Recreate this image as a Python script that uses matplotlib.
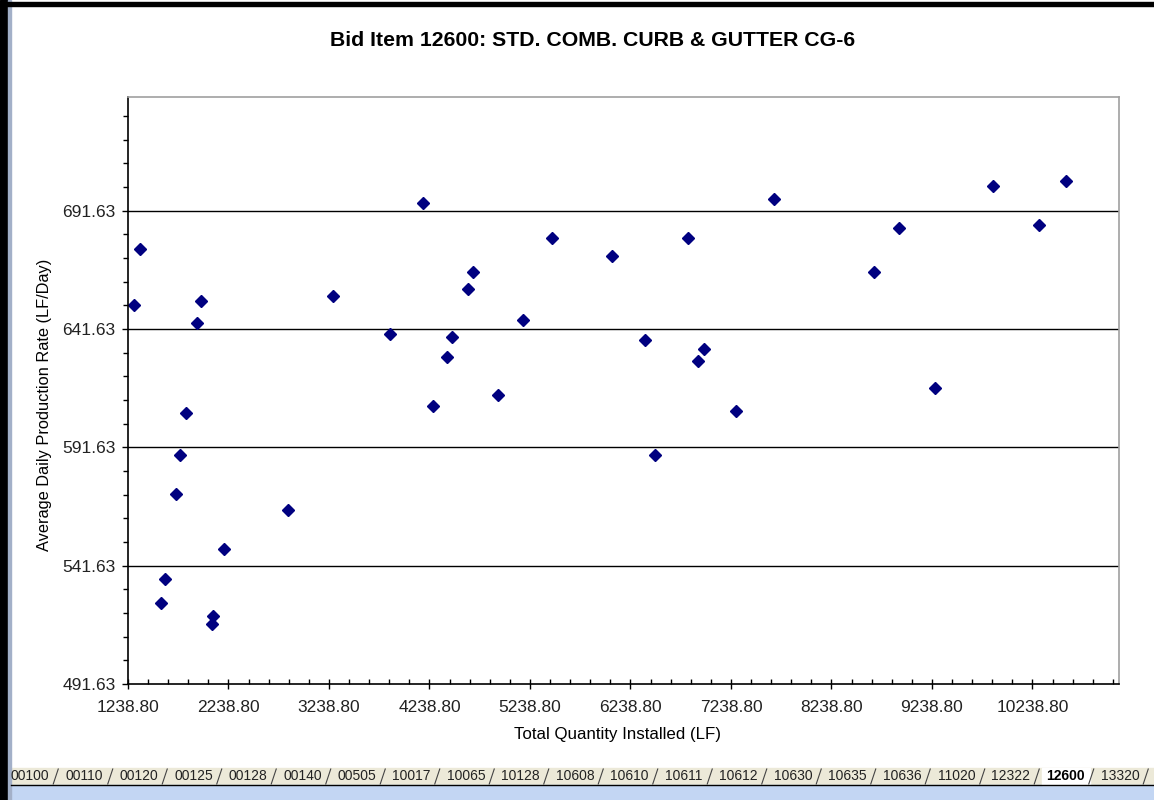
import numpy as np
import matplotlib.pyplot as plt
from matplotlib.patches import Rectangle
from matplotlib.lines import Line2D

plt.rcParams['font.family'] = ['Liberation Sans', 'DejaVu Sans']

# Data
qty_installed = [1298, 1358, 1570, 1610, 1719, 1759, 1816, 1925, 1962, 2078,
                 2088, 2191, 2831, 3279, 3843, 4177, 4271, 4416, 4466, 4619,
                 4669, 4917, 5172, 5455, 6058, 6383, 6486, 6811, 6913, 6973,
                 7291, 7668, 8661, 8913, 9269, 9842, 10299, 10572]
prod_rate = [651.8, 675.5, 525.7, 536.0, 572.1, 588.3, 606.0, 644.1, 653.6, 517.0,
             520.2, 548.6, 565.2, 655.8, 639.4, 694.8, 609.0, 630.0, 638.2, 658.6,
             665.6, 613.7, 645.5, 680.1, 672.5, 636.9, 588.4, 680.1, 628.3, 633.4,
             606.9, 696.5, 665.6, 684.5, 616.7, 702.1, 685.8, 704.2]

x_min, x_max, x_step = 1238.80, 11100, 1000
y_min, y_max, y_step = 491.63, 739.7, 50

sheet_tabs = ['00100', '00110', '00120', '00125', '00128', '00140', '00505',
              '10017', '10065', '10128', '10608', '10610', '10611', '10612',
              '10630', '10635', '10636', '11020', '12322', '12600', '13320']
active_tab = '12600'

W, H = 1154, 800
fig = plt.figure(figsize=(W / 100, H / 100), dpi=100)
fig.patch.set_facecolor('white')


def fx(px):
    return px / W


def fy(py):
    return 1 - py / H


# plot area in pixels: left 128, right 1119, top 97, bottom 684
ax = fig.add_axes([fx(128), fy(684), fx(1119) - fx(128), fy(97) - fy(684)])
ax.plot(qty_installed, prod_rate, linestyle='none', marker='D', markersize=6,
        color='#000080', markeredgecolor='#000080')

ax.set_xlim(x_min, x_max)
ax.set_ylim(y_min, y_max)
xt = x_min + x_step * np.arange(10)
yt = y_min + y_step * np.arange(5)
ax.set_xticks(xt)
ax.set_xticklabels([f'{v:.2f}' for v in xt])
ax.set_yticks(yt)
ax.set_yticklabels([f'{v:.2f}' for v in yt])
ax.set_xticks(np.arange(x_min, x_max, 200), minor=True)
ax.set_yticks(np.arange(y_min, y_max, 10), minor=True)

ax.tick_params(axis='x', which='major', direction='inout', length=7, width=1,
               labelsize=12.5, labelcolor='#222222', pad=8)
ax.tick_params(axis='x', which='minor', direction='in', length=3.5, width=1)
ax.tick_params(axis='y', which='major', direction='out', length=4, width=1,
               labelsize=12.5, labelcolor='#222222', pad=5)
ax.tick_params(axis='y', which='minor', direction='out', length=3.5, width=1)

for y in yt[1:]:
    ax.axhline(y, color='black', linewidth=1, zorder=0)

ax.spines['left'].set_color('black')
ax.spines['bottom'].set_color('black')
ax.spines['top'].set_color('#a0a0a0')
ax.spines['right'].set_color('#a0a0a0')
for s in ax.spines.values():
    s.set_linewidth(1.2)

fig.text(fx(617), fy(735), 'Total Quantity Installed (LF)', fontsize=12.2,
         ha='center', va='center')
fig.text(fx(45), fy(405), 'Average Daily Production Rate (LF/Day)', fontsize=11.8,
         ha='center', va='center', rotation=90)
fig.text(fx(593), fy(40), 'Bid Item 12600: STD. COMB. CURB & GUTTER CG-6',
         fontsize=15.3, fontweight='bold', ha='center', va='center')

# window frame bits of the screenshot
fig.add_artist(Rectangle((0, 0), fx(8), 1, transform=fig.transFigure,
                         color='black', zorder=5))
fig.add_artist(Rectangle((fx(8), 0), fx(3), 1, transform=fig.transFigure,
                         color='#a3b0c8', zorder=5))
fig.add_artist(Rectangle((fx(3), fy(6)), 1, 4 / H, transform=fig.transFigure,
                         color='black', zorder=5))

# sheet tab strip
fig.add_artist(Rectangle((fx(11), fy(785)), 1, 17 / H, transform=fig.transFigure,
                         color='#ece9d8', zorder=4))
fig.add_artist(Rectangle((fx(11), 0), 1, fy(785), transform=fig.transFigure,
                         color='#c3d6f3', zorder=4))
fig.add_artist(Line2D([fx(11), 1], [fy(785), fy(785)], transform=fig.transFigure,
                      color='black', linewidth=1, zorder=6))
tab_w = 54.5
for i, name in enumerate(sheet_tabs):
    cx = 30 + i * tab_w
    if name == active_tab:
        fig.add_artist(Rectangle((fx(cx - 24), fy(785)), fx(48), 17 / H,
                                 transform=fig.transFigure, color='white', zorder=5))
        fig.text(fx(cx), fy(776), name, fontsize=10, fontweight='bold',
                 ha='center', va='center', zorder=7)
    else:
        fig.text(fx(cx), fy(776), name, fontsize=10, color='#222222',
                 ha='center', va='center', zorder=7)
    sx = cx + tab_w / 2
    fig.add_artist(Line2D([fx(sx - 4), fx(sx + 1)], [fy(784), fy(769)],
                          transform=fig.transFigure, color='#444444',
                          linewidth=0.8, zorder=7))

fig.savefig('out.png', dpi=100)
